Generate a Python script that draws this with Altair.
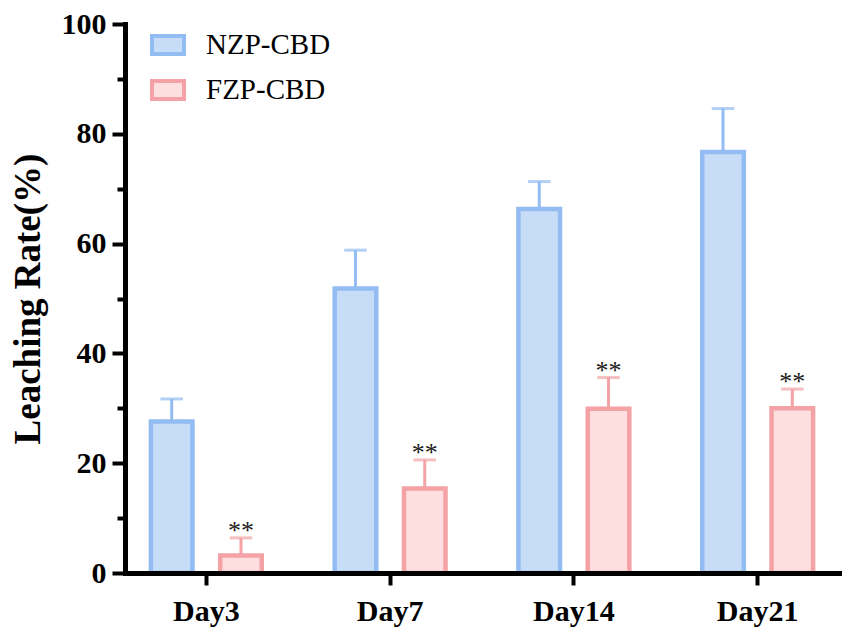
import altair as alt
import pandas as pd

days = ["Day3", "Day7", "Day14", "Day21"]
groups = ["NZP-CBD", "FZP-CBD"]
nzp_mean = [27.6, 51.8, 66.3, 76.7]
nzp_upper = [31.7, 58.8, 71.3, 84.6]
fzp_mean = [3.2, 15.4, 29.9, 30.0]
fzp_upper = [6.4, 20.6, 35.6, 33.5]
sig_marks = ["**", "**", "**", "**"]

fills = ["#c7dcf6", "#fddfe0"]
strokes = ["#92bcf2", "#f4a2a5"]

rows = []
for i, d in enumerate(days):
    rows.append({"day": d, "group": groups[0], "mean": nzp_mean[i], "upper": nzp_upper[i], "sig": ""})
    rows.append({"day": d, "group": groups[1], "mean": fzp_mean[i], "upper": fzp_upper[i], "sig": sig_marks[i]})
df = pd.DataFrame(rows)

serif = "Liberation Serif"

x_enc = alt.X("day:N", sort=days,
              scale=alt.Scale(paddingInner=0.246, paddingOuter=0.0656),
              axis=alt.Axis(title=None, labelFont=serif, labelFontWeight="bold",
                            labelFontSize=30, labelColor="black", labelAngle=0,
                            labelPadding=11, labelBaseline="top",
                            tickSize=12, tickWidth=4, tickColor="black",
                            domainWidth=5, domainColor="black", domainCap="square",
                            zindex=1))
xoff = alt.XOffset("group:N", sort=groups,
                   scale=alt.Scale(domain=groups, paddingInner=0.4, paddingOuter=0.2))
y_scale = alt.Scale(domain=[0, 100], nice=False)
y_enc = alt.Y("mean:Q", scale=y_scale,
              axis=alt.Axis(title="Leaching Rate(%)",
                            values=[0, 10, 20, 30, 40, 50, 60, 70, 80, 90, 100],
                            labelExpr="datum.value % 20 === 0 ? datum.label : ''",
                            labelFont=serif, labelFontWeight="bold", labelFontSize=30,
                            labelColor="black", labelPadding=6,
                            tickSize={"condition": {"test": "datum.value % 20 === 0", "value": 13}, "value": 8},
                            tickWidth=4, tickColor="black",
                            domainWidth=5, domainColor="black", domainCap="square",
                            titleFont=serif, titleFontWeight="bold", titleFontSize=37,
                            titleColor="black", titleAngle=270,
                            titleX=-86, titleY=274.5, titleAlign="center",
                            titleBaseline="alphabetic",
                            zindex=1))

fill_scale = alt.Scale(domain=groups, range=fills)
stroke_scale = alt.Scale(domain=groups, range=strokes)

legend = alt.Legend(title=None, orient="none", legendX=25, legendY=3,
                    symbolType="M-1,-0.5625H1V0.5625H-1Z", symbolSize=1024,
                    symbolStrokeWidth=4, labelFont=serif, labelFontSize=29,
                    labelColor="black", labelOffset=20, rowPadding=10, padding=0)

base = alt.Chart(df)

rules = base.mark_rule(strokeWidth=3).encode(
    x=x_enc, xOffset=xoff,
    y=alt.Y("mean:Q", scale=y_scale),
    y2="upper:Q",
    stroke=alt.Stroke("group:N", scale=stroke_scale, legend=legend),
)

caps = base.mark_tick(orient="horizontal", size=20, thickness=0.5,
                      filled=False, strokeWidth=2.5).encode(
    x=x_enc, xOffset=xoff,
    y=alt.Y("upper:Q", scale=y_scale),
    stroke=alt.Stroke("group:N", scale=stroke_scale, legend=legend),
)

bars = base.mark_bar(strokeWidth=4.5).encode(
    x=x_enc, xOffset=xoff, y=y_enc,
    fill=alt.Fill("group:N", scale=fill_scale, legend=legend),
    stroke=alt.Stroke("group:N", scale=stroke_scale, legend=legend),
)

stars = base.transform_filter("datum.sig != ''").mark_text(
    font=serif, fontSize=26, baseline="alphabetic", dy=1, color="#1a1a1a"
).encode(
    x=x_enc, xOffset=xoff,
    y=alt.Y("upper:Q", scale=y_scale),
    text="sig:N",
)

chart = alt.layer(bars, rules, caps, stars).properties(
    width=714, height=549,
    autosize=alt.AutoSizeParams(type="none"),
    padding={"left": 117, "top": 16, "right": 4, "bottom": 56},
).configure_view(stroke=None).configure_axis(grid=False)

chart.save("out.html", embed_options={"renderer": "svg", "actions": False})
